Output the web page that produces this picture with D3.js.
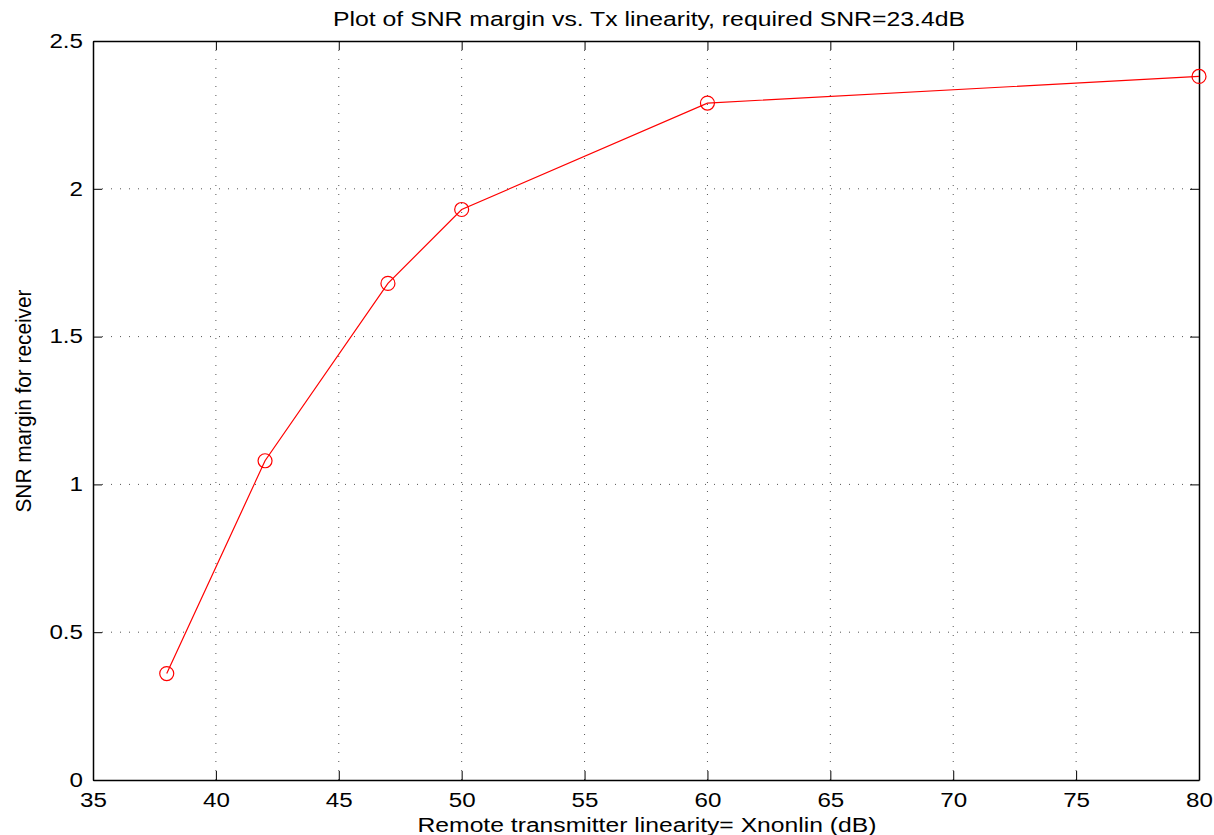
<!DOCTYPE html>
<html><head><meta charset="utf-8">
<script src="https://cdn.jsdelivr.net/npm/d3@7"></script>
<style>body{margin:0;background:#fff}text{font-family:"Liberation Sans",Arial,sans-serif}</style>
</head><body>
<svg id="c" width="1214" height="835"></svg>
<script>
const xValues = [38, 42, 47, 50, 60, 80];
const yValues = [0.36, 1.08, 1.68, 1.93, 2.29, 2.38];
const xTicks = [35, 40, 45, 50, 55, 60, 65, 70, 75, 80];
const yTicks = [0, 0.5, 1, 1.5, 2, 2.5];
const title = "Plot of SNR margin vs. Tx linearity, required SNR=23.4dB";
const xLabel = "Remote transmitter linearity= Xnonlin (dB)";
const yLabel = "SNR margin for receiver";

const svg = d3.select("#c");
const L = 93, R = 1199, T = 41, B = 780;
const SX = 1.24; // horizontal stretch of the reference's text
const x = d3.scaleLinear().domain([35, 80]).range([L, R]);
const y = d3.scaleLinear().domain([0, 2.5]).range([B, T]);

// grid
const g = svg.append("g");
g.selectAll(".gx").data(xTicks.slice(1, -1)).enter().append("line")
  .attr("x1", d => x(d)).attr("x2", d => x(d)).attr("y1", T).attr("y2", B)
  .attr("stroke", "#555").attr("stroke-width", 1).attr("stroke-dasharray", "1,8");
g.selectAll(".gy").data(yTicks.slice(1, -1)).enter().append("line")
  .attr("y1", d => y(d)).attr("y2", d => y(d)).attr("x1", L).attr("x2", R)
  .attr("stroke", "#555").attr("stroke-width", 1).attr("stroke-dasharray", "1,8");

// axes (ticks inward)
const fmt = d => String(d);
const ax = (a, tr) => svg.append("g").attr("transform", tr).call(a);
const xb = ax(d3.axisBottom(x).tickValues(xTicks).tickSizeInner(-9).tickSizeOuter(0).tickPadding(13).tickFormat(fmt), `translate(0,${B})`);
const xt = ax(d3.axisTop(x).tickValues(xTicks).tickSizeInner(-9).tickSizeOuter(0).tickFormat(""), `translate(0,${T})`);
const yl = ax(d3.axisLeft(y).tickValues(yTicks).tickSizeInner(-9).tickSizeOuter(0).tickPadding(10).tickFormat(fmt), `translate(${L},0)`);
const yr = ax(d3.axisRight(y).tickValues(yTicks).tickSizeInner(-9).tickSizeOuter(0).tickFormat(""), `translate(${R},0)`);
[xb, xt, yl, yr].forEach(s => {
  s.select(".domain").attr("stroke", "#000").attr("stroke-width", 1.5);
  s.selectAll(".tick line").attr("stroke", "#000");
  s.selectAll("text").attr("font-size", 19.5).attr("fill", "#000").style("font-family", '"Liberation Sans",Arial,sans-serif');
});
xb.selectAll(".tick text").attr("transform", `scale(${SX},1)`);
yl.selectAll(".tick text").attr("x", -10 / SX).attr("transform", `scale(${SX},1)`);

// line
svg.append("path").datum(xValues.map((d, i) => [d, yValues[i]]))
  .attr("fill", "none").attr("stroke", "#ff0000").attr("stroke-width", 1.2)
  .attr("d", d3.line().x(d => x(d[0])).y(d => y(d[1])));
svg.selectAll(".m").data(xValues).enter().append("circle")
  .attr("cx", d => x(d)).attr("cy", (d, i) => y(yValues[i])).attr("r", 7)
  .attr("fill", "none").attr("stroke", "#ff0000").attr("stroke-width", 1.2);

// labels
svg.append("text").attr("x", 649).attr("y", 26).attr("text-anchor", "middle").attr("font-size", 20.5)
  .attr("textLength", 632).attr("lengthAdjust", "spacingAndGlyphs").text(title);
svg.append("text").attr("x", 647).attr("y", 832).attr("text-anchor", "middle").attr("font-size", 19.5)
  .attr("textLength", 459).attr("lengthAdjust", "spacingAndGlyphs").text(xLabel);
svg.append("text").attr("transform", `translate(31,401) scale(${SX},1) rotate(-90)`).attr("text-anchor", "middle").attr("font-size", 17.5)
  .attr("textLength", 223).attr("lengthAdjust", "spacingAndGlyphs").text(yLabel);
</script>
</body></html>
